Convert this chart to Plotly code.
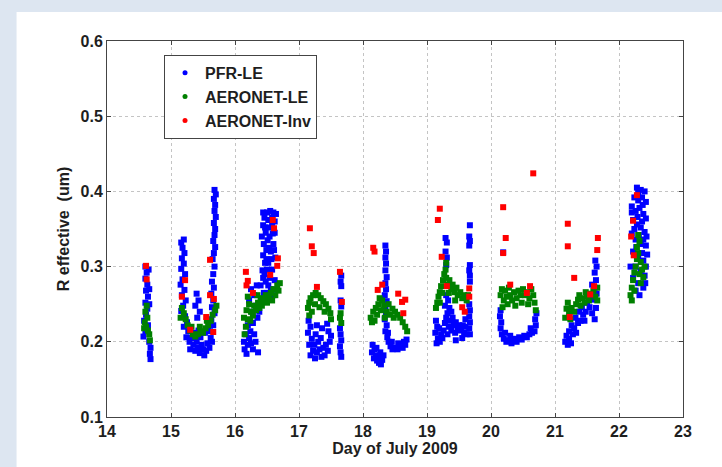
import plotly.graph_objects as go

# ---------------- data (day of July 2009, effective radius in um) ----------------
pfr_a = [(14.60,0.300),(14.62,0.292),(14.60,0.284),(14.63,0.276),(14.61,0.268),(14.64,0.260),(14.60,0.252),(14.63,0.244),(14.61,0.236),(14.58,0.228),(14.64,0.222),(14.60,0.214),(14.57,0.207),(14.66,0.200),(14.68,0.192),(14.67,0.184),(14.68,0.177),(14.65,0.296),(14.66,0.270),(14.66,0.250)]
pfr_b = [(15.20,0.336),(15.16,0.332),(15.18,0.325),(15.21,0.318),(15.17,0.311),(15.20,0.304),(15.16,0.297),(15.22,0.290),(15.18,0.283),(15.15,0.276),(15.21,0.269),(15.17,0.262),(15.23,0.255),(15.19,0.248),(15.16,0.241),(15.22,0.234),(15.25,0.226),(15.20,0.220),(15.27,0.214),(15.24,0.206),(15.29,0.200),
         (15.32,0.205),(15.35,0.196),(15.30,0.190),(15.38,0.188),(15.42,0.192),(15.40,0.200),(15.45,0.185),(15.48,0.196),(15.50,0.190),(15.52,0.182),(15.55,0.188),(15.57,0.198),(15.60,0.192),(15.46,0.206),(15.53,0.212),(15.62,0.205),(15.58,0.215),(15.36,0.212),(15.43,0.215),
         (15.40,0.264),(15.43,0.255),(15.38,0.248),(15.45,0.240),(15.41,0.232),
         (15.68,0.402),(15.70,0.396),(15.67,0.390),(15.69,0.382),(15.68,0.374),(15.70,0.366),(15.67,0.358),(15.69,0.350),(15.68,0.342),(15.66,0.334),(15.69,0.326),(15.67,0.318),(15.65,0.310),(15.68,0.300),(15.66,0.290),(15.64,0.280),(15.67,0.272),(15.63,0.264),(15.66,0.255),(15.64,0.246),(15.68,0.238),(15.63,0.230),(15.66,0.222),(15.61,0.214),(15.64,0.200)]
pfr_c = [(16.15,0.190),(16.18,0.184),(16.20,0.196),(16.14,0.200),(16.22,0.205),(16.17,0.210),(16.25,0.198),(16.28,0.190),(16.24,0.214),(16.20,0.222),(16.28,0.225),(16.30,0.210),(16.32,0.200),(16.36,0.186),(16.26,0.240),(16.22,0.255),(16.25,0.270),(16.30,0.262),(16.33,0.248),(16.35,0.232),(16.38,0.240),(16.34,0.275),
         (16.42,0.255),(16.45,0.265),(16.40,0.275),(16.44,0.285),(16.48,0.280),(16.43,0.295),(16.47,0.305),(16.44,0.315),(16.49,0.322),(16.45,0.330),(16.42,0.340),(16.48,0.345),(16.44,0.355),(16.46,0.365),(16.50,0.372),(16.44,0.372),(16.55,0.374),(16.60,0.372),(16.64,0.370),(16.52,0.362),(16.58,0.356),(16.62,0.345),(16.54,0.340),(16.60,0.330),(16.56,0.320),(16.63,0.312),(16.52,0.305),(16.58,0.296),(16.54,0.285),(16.62,0.282),(16.50,0.265),(16.56,0.270),(16.60,0.262),(16.53,0.352),(16.62,0.360),(16.50,0.296),
         (16.51,0.335),(16.57,0.310),(16.59,0.344),(16.47,0.352),(16.53,0.325),(16.61,0.322),(16.46,0.290),(16.52,0.275),(16.58,0.365),(16.49,0.310)]
pfr_d = [(17.15,0.228),(17.18,0.220),(17.14,0.212),(17.20,0.204),(17.16,0.196),(17.22,0.188),(17.18,0.182),(17.25,0.178),(17.28,0.186),(17.24,0.196),(17.26,0.210),(17.30,0.200),(17.32,0.190),(17.35,0.180),(17.38,0.192),(17.34,0.205),(17.40,0.182),(17.42,0.196),(17.45,0.188),(17.48,0.200),(17.46,0.214),(17.50,0.208),(17.44,0.224),(17.28,0.222),(17.36,0.218),
         (17.66,0.288),(17.65,0.280),(17.66,0.274),(17.65,0.255),(17.66,0.247),(17.64,0.218),(17.65,0.210),(17.66,0.202),(17.64,0.194),(17.65,0.186),(17.66,0.180)]
pfr_e = [(18.35,0.328),(18.36,0.320),(18.35,0.312),(18.36,0.304),(18.35,0.295),(18.37,0.286),(18.35,0.278),(18.36,0.270),(18.34,0.262),(18.37,0.254),(18.35,0.246),(18.36,0.238),(18.34,0.230),(18.37,0.222),(18.35,0.214),(18.38,0.206),
         (18.15,0.196),(18.18,0.190),(18.14,0.186),(18.20,0.182),(18.17,0.178),(18.22,0.175),(18.25,0.172),(18.28,0.170),(18.24,0.180),(18.30,0.176),(18.27,0.186),(18.32,0.182),(18.21,0.192),
         (18.40,0.200),(18.43,0.194),(18.46,0.190),(18.50,0.192),(18.54,0.190),(18.58,0.193),(18.62,0.192),(18.66,0.196),(18.68,0.203),(18.45,0.200),(18.55,0.198),(18.64,0.200),(18.39,0.212)]
pfr_f = [(19.14,0.228),(19.16,0.220),(19.13,0.212),(19.17,0.204),(19.15,0.198),(19.20,0.200),(19.22,0.210),(19.19,0.218),(19.24,0.205),(19.26,0.215),(19.28,0.225),
         (19.29,0.338),(19.31,0.332),(19.29,0.320),(19.31,0.312),(19.30,0.302),
         (19.30,0.262),(19.33,0.255),(19.28,0.248),(19.35,0.245),(19.32,0.238),(19.38,0.240),(19.30,0.232),(19.36,0.228),(19.40,0.232),(19.34,0.220),(19.42,0.222),(19.38,0.215),(19.45,0.226),(19.48,0.218),(19.44,0.212),(19.50,0.222),(19.53,0.215),(19.56,0.222),(19.58,0.212),(19.60,0.220),(19.62,0.210),(19.55,0.205),(19.45,0.202),(19.32,0.210),(19.60,0.230),
         (19.67,0.355),(19.66,0.340),(19.67,0.334),(19.66,0.328),(19.67,0.302),(19.66,0.295),(19.67,0.288),(19.67,0.280),(19.66,0.250),(19.67,0.242),(19.66,0.234),(19.67,0.226),(19.66,0.218),(19.67,0.210)]
pfr_g = [(20.15,0.242),(20.14,0.234),(20.16,0.226),(20.15,0.218),(20.17,0.210),(20.20,0.204),(20.24,0.200),(20.28,0.202),(20.32,0.198),(20.36,0.204),(20.40,0.200),(20.44,0.206),(20.48,0.203),(20.52,0.208),(20.56,0.206),(20.60,0.210),(20.64,0.212),(20.68,0.214),(20.70,0.222),(20.69,0.230),(20.71,0.238),(20.22,0.212),(20.30,0.208),(20.62,0.218),(20.19,0.319)]
pfr_h = [(21.16,0.200),(21.18,0.208),(21.20,0.196),(21.22,0.204),(21.25,0.198),(21.28,0.210),(21.30,0.218),(21.26,0.222),(21.33,0.212),(21.36,0.225),(21.32,0.232),(21.40,0.228),(21.38,0.240),(21.44,0.236),(21.42,0.246),(21.48,0.240),(21.50,0.252),(21.54,0.246),(21.58,0.238),(21.62,0.230),(21.64,0.245),(21.60,0.256),(21.65,0.264),(21.62,0.272),(21.64,0.282),(21.62,0.292),(21.65,0.300),(21.63,0.308),(21.58,0.276),(21.56,0.260),(21.22,0.214),(21.46,0.228)]
pfr_i = [(22.28,0.405),(22.34,0.402),(22.40,0.400),(22.36,0.392),(22.42,0.386),(22.30,0.388),(22.24,0.392),(22.20,0.380),(22.26,0.374),(22.32,0.378),(22.38,0.370),(22.42,0.364),(22.22,0.362),(22.28,0.356),(22.34,0.352),(22.40,0.346),(22.20,0.344),(22.26,0.336),(22.34,0.330),(22.42,0.328),(22.22,0.320),(22.30,0.314),(22.38,0.308),(22.42,0.300),(22.26,0.300),(22.34,0.294),(22.40,0.288),(22.22,0.285),(22.30,0.278),(22.38,0.272),(22.26,0.268),(22.32,0.262),(22.44,0.316),(22.18,0.300),
         (22.30,0.398),(22.37,0.382),(22.29,0.366),(22.36,0.360),(22.24,0.350),(22.31,0.342),(22.38,0.336),(22.27,0.326),(22.36,0.318),(22.43,0.340),(22.20,0.372),(22.41,0.278)]

aer_le_a = [(14.62,0.248),(14.60,0.240),(14.63,0.232),(14.59,0.226),(14.61,0.220),(14.64,0.215),(14.58,0.218),(14.66,0.210),(14.67,0.202)]
aer_le_b = [(15.17,0.245),(15.20,0.238),(15.15,0.232),(15.23,0.230),(15.26,0.222),(15.30,0.215),(15.34,0.210),(15.38,0.207),(15.42,0.210),(15.46,0.214),(15.50,0.212),(15.54,0.218),(15.58,0.222),(15.62,0.228),(15.65,0.236),(15.69,0.242),(15.71,0.248),(15.32,0.220),(15.45,0.220),(15.56,0.228)]
aer_le_c = [(16.15,0.210),(16.17,0.220),(16.14,0.232),(16.18,0.242),(16.20,0.230),(16.22,0.250),(16.25,0.240),(16.24,0.228),(16.28,0.235),(16.30,0.248),(16.33,0.242),(16.36,0.252),(16.38,0.245),(16.40,0.258),(16.42,0.248),(16.45,0.255),(16.48,0.262),(16.50,0.252),(16.53,0.258),(16.56,0.265),(16.60,0.270),(16.63,0.262),(16.66,0.275),(16.68,0.268),(16.70,0.278),(16.58,0.255),(16.20,0.260),(16.35,0.262)]
aer_le_d = [(17.14,0.245),(17.16,0.252),(17.18,0.258),(17.22,0.262),(17.26,0.265),(17.30,0.262),(17.34,0.258),(17.38,0.254),(17.42,0.250),(17.46,0.244),(17.49,0.238),(17.50,0.230),(17.20,0.240),(17.25,0.250),(17.32,0.246),(17.40,0.240),(17.16,0.235),(17.64,0.232),(17.66,0.225),(17.65,0.238)]
aer_le_e = [(18.12,0.232),(18.16,0.240),(18.14,0.226),(18.20,0.245),(18.24,0.250),(18.22,0.236),(18.28,0.242),(18.30,0.255),(18.33,0.248),(18.37,0.240),(18.40,0.250),(18.42,0.236),(18.46,0.244),(18.50,0.240),(18.54,0.236),(18.58,0.232),(18.62,0.226),(18.66,0.220),(18.69,0.214),(18.26,0.258),(18.34,0.232),(18.48,0.232),(18.18,0.228)]
aer_le_f = [(19.14,0.245),(19.16,0.252),(19.18,0.260),(19.20,0.266),(19.22,0.274),(19.25,0.282),(19.27,0.290),(19.29,0.296),(19.30,0.285),(19.32,0.276),(19.35,0.282),(19.38,0.270),(19.40,0.276),(19.43,0.266),(19.46,0.272),(19.48,0.262),(19.52,0.266),(19.55,0.258),(19.58,0.262),(19.62,0.255),(19.64,0.262),(19.24,0.265),(19.20,0.252),(19.34,0.265),(19.44,0.255),(19.30,0.305)]
aer_le_g = [(20.15,0.262),(20.17,0.270),(20.20,0.255),(20.22,0.268),(20.25,0.260),(20.28,0.272),(20.30,0.262),(20.33,0.255),(20.36,0.266),(20.40,0.258),(20.43,0.268),(20.46,0.262),(20.50,0.270),(20.53,0.262),(20.56,0.266),(20.60,0.258),(20.63,0.270),(20.66,0.262),(20.68,0.252),(20.70,0.242),(20.18,0.246),(20.26,0.250),(20.38,0.248),(20.48,0.252),(20.58,0.250)]
aer_le_h = [(21.16,0.232),(21.18,0.244),(21.20,0.252),(21.22,0.238),(21.26,0.245),(21.30,0.240),(21.33,0.250),(21.36,0.256),(21.40,0.248),(21.43,0.258),(21.46,0.252),(21.50,0.260),(21.53,0.255),(21.56,0.264),(21.60,0.268),(21.63,0.260),(21.66,0.272),(21.66,0.255),(21.24,0.230),(21.38,0.262),(21.48,0.266)]
aer_le_i = [(22.18,0.262),(22.20,0.272),(22.22,0.282),(22.24,0.292),(22.26,0.300),(22.28,0.310),(22.30,0.318),(22.28,0.326),(22.32,0.334),(22.30,0.342),(22.34,0.306),(22.36,0.296),(22.38,0.286),(22.34,0.278),(22.24,0.268),(22.40,0.300),(22.32,0.290),(22.20,0.255)]

aer_inv = [(14.61,0.301),(14.62,0.283),
           (15.22,0.282),(15.17,0.260),(15.30,0.216),(15.61,0.309),(15.61,0.262),(15.67,0.257),(15.55,0.233),(15.66,0.213),
           (16.17,0.293),(16.20,0.281),(16.18,0.275),(16.28,0.265),(16.59,0.362),(16.61,0.351),(16.67,0.311),(16.66,0.301),(16.55,0.289),
           (17.17,0.351),(17.20,0.327),(17.23,0.318),(17.28,0.273),(17.64,0.293),(17.67,0.253),
           (18.16,0.325),(18.18,0.320),(18.30,0.276),(18.23,0.269),(18.55,0.264),(18.66,0.256),(18.61,0.253),(18.63,0.238),
           (19.20,0.377),(19.17,0.362),(19.23,0.313),(19.31,0.274),(19.55,0.246),(19.59,0.240),(19.66,0.271),(19.66,0.260),
           (20.19,0.379),(20.23,0.338),(20.19,0.318),(20.30,0.276),(20.61,0.274),(20.56,0.265),(20.66,0.424),
           (21.20,0.357),(21.20,0.327),(21.30,0.285),(21.67,0.338),(21.66,0.322),(21.61,0.274),(21.55,0.263),(21.23,0.233),
           (22.28,0.395),(22.22,0.361),(22.19,0.340),(22.23,0.315)]

x_ticks = [14, 15, 16, 17, 18, 19, 20, 21, 22, 23]
y_ticks = [0.1, 0.2, 0.3, 0.4, 0.5, 0.6]
y_tick_labels = ["0.1", "0.2", "0.3", "0.4", "0.5", "0.6"]

pfr = pfr_a + pfr_b + pfr_c + pfr_d + pfr_e + pfr_f + pfr_g + pfr_h + pfr_i
aer_le = aer_le_a + aer_le_b + aer_le_c + aer_le_d + aer_le_e + aer_le_f + aer_le_g + aer_le_h + aer_le_i

FONT = "Liberation Sans, Arial, sans-serif"
TXT = "#1e1e1e"

fig = go.Figure()
series = [("PFR-LE", pfr, "#0000ff"), ("AERONET-LE", aer_le, "#008000"), ("AERONET-Inv", aer_inv, "#ff0000")]
for name, pts, col in series:
    fig.add_trace(go.Scatter(
        x=[p[0] for p in pts], y=[p[1] for p in pts], name=name, mode="markers",
        showlegend=False, legendgroup=name,
        marker=dict(symbol="square", size=6, color=col, line=dict(width=0)),
    ))
# legend entries (small dot markers, as in the original legend)
for name, pts, col in series:
    fig.add_trace(go.Scatter(
        x=[None], y=[None], name=name, mode="markers", legendgroup=name,
        marker=dict(symbol="circle", size=5, color=col, line=dict(width=0)),
    ))

# white panel on light-blue page
fig.add_shape(type="rect", xref="paper", yref="paper",
              x0=-0.157, x1=1.1, y0=-0.2, y1=1.077,
              fillcolor="white", line=dict(width=0), layer="below")

axis_common = dict(
    showline=True, linecolor="#444444", linewidth=1, mirror="ticks",
    ticks="inside", ticklen=4, tickcolor="#444444",
    showgrid=True, gridcolor="#c4c4c4", griddash="dot", gridwidth=1,
    zeroline=False,
    tickfont=dict(family=FONT, size=16, color=TXT, weight="bold"),
)

fig.update_layout(
    width=722, height=467,
    margin=dict(l=107, r=39, t=41, b=50),
    paper_bgcolor="#dde6f1",
    plot_bgcolor="white",
    showlegend=True,
    legend=dict(
        x=0.099, y=0.963, xanchor="left", yanchor="top",
        bgcolor="white", bordercolor="#444444", borderwidth=1,
        font=dict(family=FONT, size=16, color=TXT, weight="bold"),
        tracegroupgap=0,
    ),
    xaxis=dict(range=[14, 23], tickvals=x_ticks, ticktext=[str(t) for t in x_ticks],
               title=dict(text="Day of July 2009", standoff=0,
                          font=dict(family=FONT, size=16, color=TXT, weight="bold")),
               **axis_common),
    yaxis=dict(range=[0.1, 0.6], tickvals=y_ticks, ticktext=y_tick_labels,
               title=dict(text="R effective  (um)", standoff=6,
                          font=dict(family=FONT, size=16, color=TXT, weight="bold")),
               **axis_common),
)

fig.write_html("out.html")
